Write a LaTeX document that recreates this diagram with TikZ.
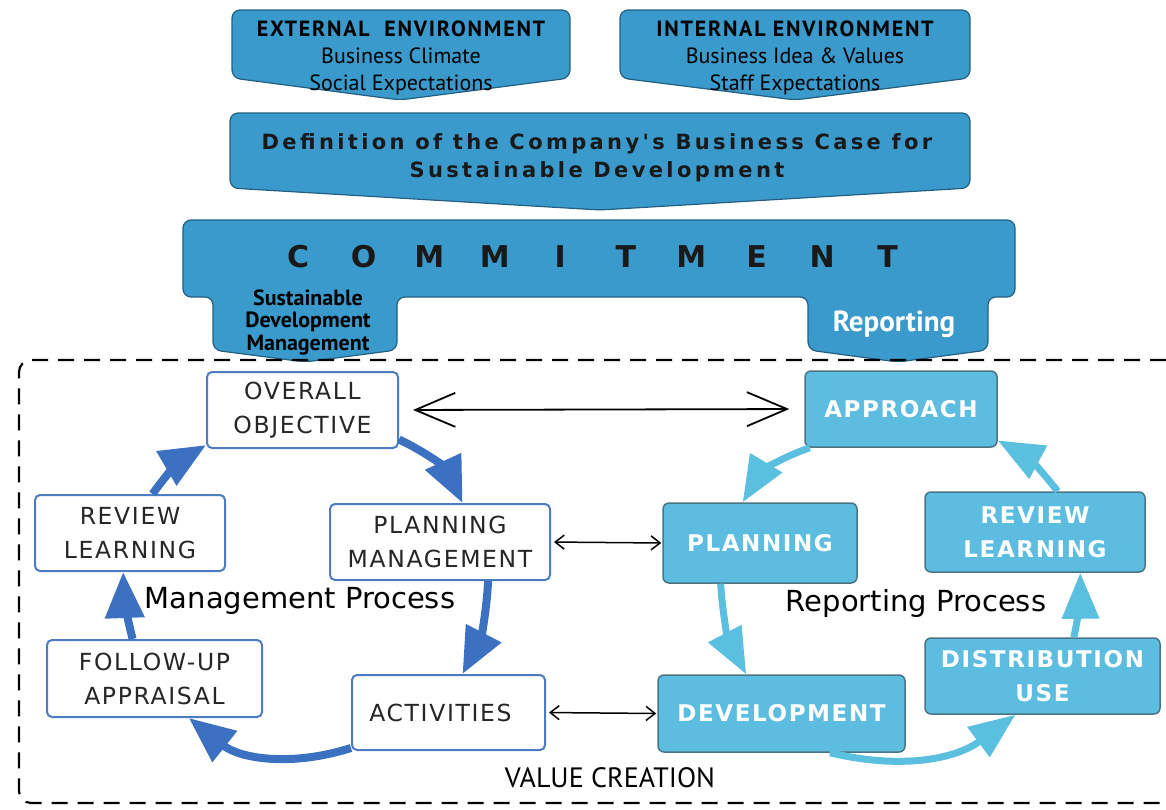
\documentclass[tikz,border=0pt]{standalone}
\usepackage{fontspec}
\setmainfont{DejaVu Sans}
\newfontfamily\pts{PT Sans}
\newfontfamily\ptsls{PT Sans}[LetterSpace=8]
\newfontfamily\djls{DejaVu Sans}[LetterSpace=7]
\newfontfamily\djw{DejaVu Sans}[LetterSpace=16]
\usetikzlibrary{arrows.meta,calc}
\definecolor{topfill}{HTML}{3A9ACB}
\definecolor{topdraw}{HTML}{235F80}
\definecolor{lblue}{HTML}{4E7CC2}
\definecolor{larrow}{HTML}{3C70C0}
\definecolor{rfill}{HTML}{5CBDE0}
\definecolor{rdraw}{HTML}{4A7585}
\definecolor{rarrow}{HTML}{5BBFE0}
\begin{document}
\begin{tikzpicture}[x=1pt,y=-1pt,
  topbox/.style={fill=topfill,draw=topdraw,line width=1.2pt,rounded corners=8pt},
  lbox/.style={draw=lblue,line width=2pt,rounded corners=5pt,fill=white,align=center,
    text=black!85,inner sep=0pt,font=\djls\fontsize{23.5}{34}\selectfont},
  rbox/.style={draw=rdraw,line width=1.5pt,rounded corners=6pt,fill=rfill,align=center,
    text=white,inner sep=0pt,font=\djls\bfseries\fontsize{23}{34}\selectfont},
  lcyc/.style={draw=larrow,line width=8pt,-{Triangle[length=46pt,width=38pt]}},
  rcyc/.style={draw=rarrow,line width=7pt,-{Triangle[length=46pt,width=36pt]}},
  bigdbl/.style={line width=1.8pt,{Straight Barb[length=40pt,width=34pt]}-{Straight Barb[length=40pt,width=34pt]}},
  smalldbl/.style={line width=1.5pt,{Straight Barb[length=9pt,width=14pt]}-{Straight Barb[length=9pt,width=14pt]}},
  frame/.style={line width=2.2pt,dash pattern=on 16pt off 10pt,rounded corners=12pt}
]
\useasboundingbox (0,0) rectangle (1166,809);

% top boxes
\path[topbox] (232,10) -- (570,10) -- (570,78) -- (400,100) -- (232,78) -- cycle;
\path[topbox] (620,10) -- (970,10) -- (970,78) -- (795,100) -- (620,78) -- cycle;
\node[align=center,font=\pts\fontsize{22}{27}\selectfont] (ext) at (401,58)
  {{\ptsls\bfseries EXTERNAL\ \ ENVIRONMENT}\\Business Climate\\Social Expectations};
\node[align=center,font=\pts\fontsize{22}{27}\selectfont] (int) at (795,58)
  {{\ptsls\bfseries INTERNAL ENVIRONMENT}\\Business Idea \& Values\\Staff Expectations};

\path[topbox] (230,113) -- (970,113) -- (970,188) -- (600,210) -- (230,188) -- cycle;
\node[align=center,font=\djw\bfseries\fontsize{21}{28}\selectfont,text=black!90] (def) at (597,158)
  {Definition of the Company's Business Case for\\Sustainable Development};

% commitment
\path[topbox] (183,220) -- (1015,220) -- (1015,297) -- (988,297) -- (988,350) -- (898,362)
  -- (808,350) -- (808,297) -- (397,297) -- (397,350) -- (305,362) -- (213,350) -- (213,297)
  -- (183,297) -- cycle;
\node[font=\bfseries\fontsize{30}{32}\selectfont,text=black!90,inner sep=0pt] (com) at (593,257)
  {\makebox[65.5pt]{C}\makebox[65.5pt]{O}\makebox[65.5pt]{M}\makebox[65.5pt]{M}\makebox[65.5pt]{I}\makebox[65.5pt]{T}\makebox[65.5pt]{M}\makebox[65.5pt]{E}\makebox[65.5pt]{N}\makebox[65.5pt]{T}};
\node[align=center,font=\pts\bfseries\fontsize{22}{22.5}\selectfont,text=black] (sdm) at (308,322)
  {Sustainable\\Development\\Management};
\node[font=\pts\bfseries\fontsize{29}{30}\selectfont,text=white] (rep) at (894,324) {Reporting};

% frame
\draw[frame] (1166,360) -- (19,360) -- (19,803) -- (1166,803);

% left cycle nodes
\node[lbox,minimum width=191pt,minimum height=76pt] (oo) at (302.5,410) {OVERALL\\OBJECTIVE};
\node[lbox,minimum width=190pt,minimum height=76pt] (rl) at (130,533) {REVIEW\\LEARNING};
\node[lbox,minimum width=220pt,minimum height=76pt] (pm) at (440,542) {PLANNING\\MANAGEMENT};
\node[lbox,minimum width=215pt,minimum height=77pt] (fu) at (154.5,678.5) {FOLLOW-UP\\APPRAISAL};
\node[lbox,minimum width=193pt,minimum height=75pt] (act) at (448.5,712.5) {ACTIVITIES\hspace*{16pt}};

% right cycle nodes
\node[rbox,minimum width=192pt,minimum height=76pt] (ap) at (901,409) {APPROACH};
\node[rbox,minimum width=194pt,minimum height=80pt] (pl) at (760,543) {PLANNING};
\node[rbox,minimum width=220pt,minimum height=80pt] (rv) at (1035,532) {REVIEW\\LEARNING};
\node[rbox,minimum width=235pt,minimum height=76pt] (dist) at (1042.5,676) {DISTRIBUTION\\USE};
\node[rbox,minimum width=247pt,minimum height=77pt] (dev) at (781.5,713.5) {DEVELOPMENT};

% labels
\node[font=\fontsize{29}{32}\selectfont] (mp) at (300,601) {Management Process};
\node[font=\fontsize{29}{32}\selectfont] (rp) at (916,603) {Reporting Process};
\node[font=\pts\fontsize{28}{30}\selectfont] (vc) at (610,778) {VALUE CREATION};

% left cycle arrows
\draw[lcyc] (oo.-17) to[bend left=20] (pm.60);
\draw[lcyc] (pm.-39) to[bend left=12] (act.70);
\draw[lcyc] (act.-160) to[bend left=28] (fu.-49);
\draw[lcyc] (fu.119) to[bend left=6] (rl.-100);
\draw[lcyc] (rl.60) to[bend left=12] (oo.-160);

% right cycle arrows
\draw[rcyc] (ap.-157) to[bend right=20] (pl.113);
\draw[rcyc] (pl.-134) to[bend right=12] (dev.132);
\draw[rcyc] (dev.-39) to[bend right=25] (dist.-125);
\draw[rcyc] (dist.51) to[bend right=6] (rv.-42);
\draw[rcyc] (rv.61) to[bend right=12] (ap.-18);

% links
\draw[bigdbl,shorten <=14pt,shorten >=15pt] (oo.east) -- (ap.west);
\draw[smalldbl,shorten <=3pt,shorten >=1pt] (pm.east) -- (pl.west);
\draw[smalldbl,shorten <=3pt,shorten >=1pt] (act.east) -- (dev.west);
\end{tikzpicture}
\end{document}
